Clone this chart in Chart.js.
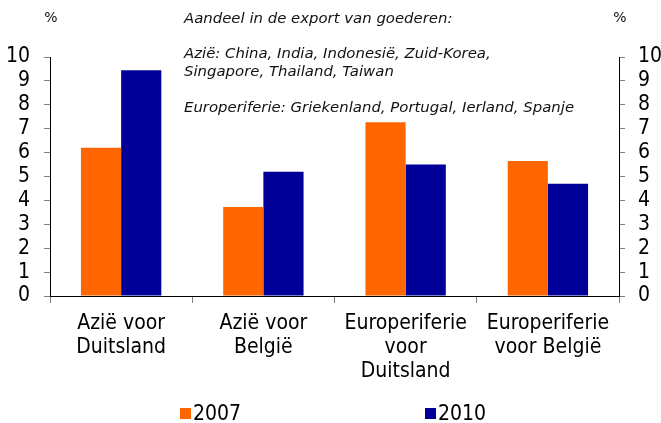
<!DOCTYPE html>
<html>
<head>
<meta charset="utf-8">
<script src="https://cdn.jsdelivr.net/npm/chart.js@4.4.1/dist/chart.umd.min.js"></script>
<style>
  body { margin: 0; background: #fff; }
  #wrap { position: relative; width: 661px; height: 423px; }
  #chart { position: absolute; left: 0; top: 0; }
  .txt { position: absolute; font-family: "DejaVu Sans", sans-serif; font-size: 14.9px; line-height: 18px; color: #111; white-space: nowrap; }
  .note { font-style: italic; }
  .unit { width: 30px; text-align: center; font-size: 14px; }
  .leg-box { position: absolute; width: 11px; height: 11px; }
  .leg-txt { position: absolute; font-family: "DejaVu Sans Condensed", "DejaVu Sans", sans-serif; font-size: 21px; line-height: 24px; color: #000; }
</style>
</head>
<body>
<div id="wrap">
  <canvas id="chart" width="661" height="423"></canvas>
  <div class="txt unit" style="left:36px; top:8px;">%</div>
  <div class="txt unit" style="left:605px; top:8px;">%</div>
  <div class="txt note" style="left:184px; top:9px;">Aandeel in de export van goederen:</div>
  <div class="txt note" style="left:184px; top:44px;">Azië: China, India, Indonesië, Zuid-Korea,<br>Singapore, Thailand, Taiwan</div>
  <div class="txt note" style="left:184px; top:98px;">Europeriferie: Griekenland, Portugal, Ierland, Spanje</div>
  <div id="legend"></div>
</div>
<script>
const categories = [
    ['Azië voor', 'Duitsland'],
    ['Azië voor', 'België'],
    ['Europeriferie', 'voor', 'Duitsland'],
    ['Europeriferie', 'voor België']
];
const values2007 = [6.2, 3.72, 7.27, 5.65];
const values2010 = [9.45, 5.2, 5.5, 4.7];
const seriesLabels = ['2007', '2010'];
const seriesColors = ['#FF6600', '#000099'];

const tickFont = { family: '"DejaVu Sans Condensed", "DejaVu Sans", sans-serif', size: 21, lineHeight: 1.15 };

function yAxis(position, width, padding) {
    return {
        position: position,
        min: 0,
        max: 10,
        ticks: { stepSize: 1, autoSkip: false, color: '#000', font: tickFont, padding: padding },
        grid: { drawOnChartArea: false, drawTicks: true, tickLength: 6, tickColor: '#808080' },
        border: { display: true, color: '#000', width: 1 },
        afterFit: function(scale) { scale.width = width; }
    };
}

const chart = new Chart(document.getElementById('chart'), {
    type: 'bar',
    data: {
        labels: categories,
        datasets: [
            { label: seriesLabels[0], data: values2007, backgroundColor: seriesColors[0], yAxisID: 'y' },
            { label: seriesLabels[1], data: values2010, backgroundColor: seriesColors[1], yAxisID: 'y' }
        ]
    },
    options: {
        responsive: false,
        animation: false,
        layout: { padding: { top: 57, left: 0, right: 0, bottom: 0 } },
        datasets: { bar: { categoryPercentage: 0.565, barPercentage: 1 } },
        plugins: {
            legend: { display: false },
            tooltip: { enabled: false }
        },
        scales: {
            x: {
                offset: true,
                ticks: { color: '#000', font: tickFont, padding: 8, maxRotation: 0, autoSkip: false },
                grid: { offset: true, drawOnChartArea: false, drawTicks: true, tickLength: 7, tickColor: '#808080' },
                border: { display: true, color: '#000', width: 1 },
                afterFit: function(scale) { scale.height = 127; }
            },
            y: yAxis('left', 50, 14),
            y2: yAxis('right', 42, 13)
        }
    }
});

// legend in html, taken from the datasets
const legendPos = [180, 425];
const legend = document.getElementById('legend');
chart.data.datasets.forEach(function(ds, i) {
    const box = document.createElement('div');
    box.className = 'leg-box';
    box.style.background = ds.backgroundColor;
    box.style.left = legendPos[i] + 'px';
    box.style.top = '408px';
    legend.appendChild(box);

    const txt = document.createElement('div');
    txt.className = 'leg-txt';
    txt.textContent = ds.label;
    txt.style.left = (legendPos[i] + 13) + 'px';
    txt.style.top = '401px';
    legend.appendChild(txt);
});
</script>
</body>
</html>
